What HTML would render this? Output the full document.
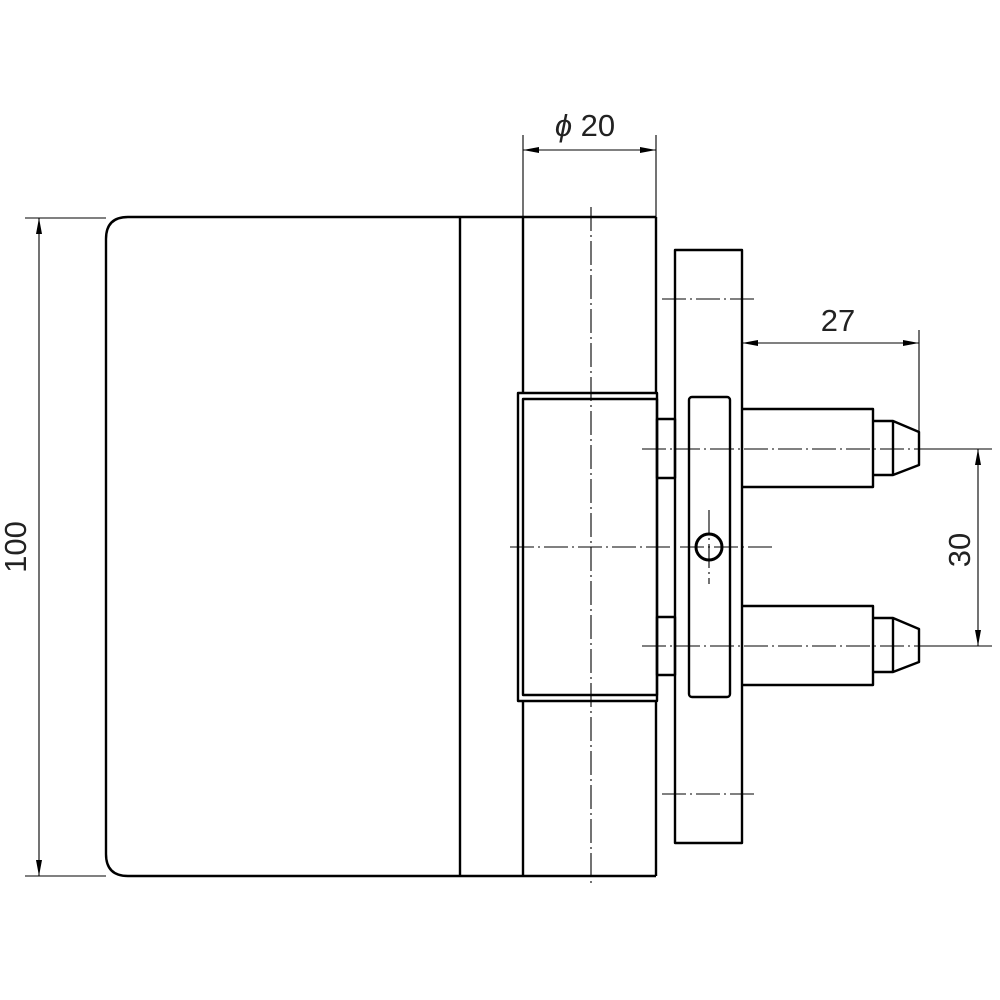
<!DOCTYPE html>
<html><head><meta charset="utf-8"><style>html,body{margin:0;padding:0;background:#fff}svg{display:block}</style></head>
<body>
<svg width="1000" height="1000" viewBox="0 0 1000 1000" xmlns="http://www.w3.org/2000/svg">
<defs>
<marker id="a" viewBox="0 0 16 6" refX="16" refY="3" markerWidth="16" markerHeight="6" markerUnits="userSpaceOnUse" orient="auto-start-reverse"><path d="M0,0 L16,3 L0,6 Z" fill="#000"/></marker>
</defs>
<g fill="none" stroke="#000" stroke-width="2.4" stroke-linejoin="round">
<path d="M128,217 H656 M106,239 Q106,217 128,217 M106,239 V854 Q106,876 128,876 H656"/>
<line x1="460" y1="217" x2="460" y2="876"/>
<line x1="523" y1="217" x2="523" y2="393"/>
<line x1="523" y1="701" x2="523" y2="876"/>
<line x1="656" y1="217" x2="656" y2="393"/>
<line x1="656" y1="701" x2="656" y2="876"/>
<rect x="518" y="393" width="139" height="308"/>
<rect x="523" y="399" width="134" height="296"/>
<rect x="657" y="419" width="18" height="59"/>
<rect x="657" y="617" width="18" height="58"/>
<rect x="675" y="250" width="67" height="593"/>
<rect x="689" y="397" width="41" height="300" rx="3"/>
<circle cx="709" cy="547" r="13" stroke-width="3"/>
<path d="M742,409 H873 V487 H742 M873,421 H893 L919,432 V465 L893,475 H873 M893,421 V475"/>
<path d="M742,606 H873 V685 H742 M873,618 H893 L919,629 V662 L893,672 H873 M893,618 V672"/>
</g>
<g stroke="#000" stroke-width="1.1" fill="none">
<g stroke-dasharray="24,4,2,4">
<line x1="591" y1="207" x2="591" y2="887"/>
<line x1="510" y1="547" x2="775" y2="547"/>
<line x1="709" y1="510" x2="709" y2="584"/>
<line x1="642" y1="449" x2="930" y2="449"/>
<line x1="642" y1="646" x2="930" y2="646"/>
<line x1="662" y1="299" x2="755" y2="299"/>
<line x1="662" y1="794" x2="755" y2="794"/>
</g>
<line x1="25" y1="218" x2="106" y2="218"/>
<line x1="25" y1="876" x2="106" y2="876"/>
<line x1="39" y1="218" x2="39" y2="876" marker-start="url(#a)" marker-end="url(#a)"/>
<line x1="523" y1="135" x2="523" y2="217"/>
<line x1="656" y1="135" x2="656" y2="217"/>
<line x1="523" y1="150" x2="656" y2="150" marker-start="url(#a)" marker-end="url(#a)"/>
<line x1="919" y1="330" x2="919" y2="432"/>
<line x1="742" y1="343" x2="919" y2="343" marker-start="url(#a)" marker-end="url(#a)"/>
<line x1="930" y1="449" x2="992" y2="449"/>
<line x1="930" y1="646" x2="992" y2="646"/>
<line x1="978" y1="449" x2="978" y2="646" marker-start="url(#a)" marker-end="url(#a)"/>
</g>
<g font-family="Liberation Sans, sans-serif" font-size="31" fill="#222">
<text x="838" y="331" text-anchor="middle">27</text>
<text x="585" y="136" text-anchor="middle"><tspan font-style="italic">ϕ</tspan> 20</text>
<text transform="translate(26,547) rotate(-90)" text-anchor="middle">100</text>
<text transform="translate(970,550) rotate(-90)" text-anchor="middle">30</text>
</g>
</svg>
</body></html>
